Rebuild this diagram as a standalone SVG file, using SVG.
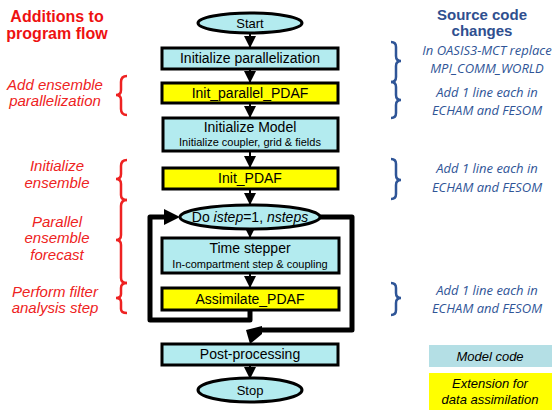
<svg xmlns="http://www.w3.org/2000/svg" width="555" height="410" viewBox="0 0 555 410">
<defs>
<style>
.cyan{fill:#b3ebef;stroke:#000;stroke-width:3}
.yel{fill:#ffff00;stroke:#000;stroke-width:3}
.t{font-family:"Liberation Sans",Arial,sans-serif;font-size:14px;fill:#000;text-anchor:middle}
.s{font-family:"Liberation Sans",Arial,sans-serif;font-size:11px;fill:#000;text-anchor:middle}
.red{font-family:"Liberation Sans",Arial,sans-serif;font-size:15px;font-style:italic;fill:#ee2222;text-anchor:middle}
.redb{font-family:"Liberation Sans",Arial,sans-serif;font-size:16px;font-weight:bold;fill:#ee1111;text-anchor:middle}
.blue{font-family:"Open Sans","Liberation Sans",sans-serif;font-size:13px;font-style:italic;fill:#2f5597;text-anchor:middle}
.blueb{font-family:"Liberation Sans",Arial,sans-serif;font-size:15px;font-weight:bold;fill:#2f4f8f;text-anchor:middle}
.leg{font-family:"Liberation Sans",Arial,sans-serif;font-size:13px;font-style:italic;fill:#000;text-anchor:middle}
.rb{fill:none;stroke:#ee2222;stroke-width:2.5}
.bb{fill:none;stroke:#2f5597;stroke-width:2.5}
.ln{fill:none;stroke:#000;stroke-width:2}
.thick{fill:none;stroke:#000;stroke-width:5;stroke-linejoin:round}
</style>
<marker id="ah" viewBox="0 0 12 12" refX="12" refY="6" markerWidth="12" markerHeight="12" markerUnits="userSpaceOnUse" orient="auto">
<path d="M0,0 L12,6 L0,12 z" fill="#000"/>
</marker>
</defs>

<!-- left annotations -->
<text class="redb" x="57" y="22">Additions to</text>
<text class="redb" x="57" y="39">program flow</text>
<text class="red" x="55" y="90">Add ensemble</text>
<text class="red" x="55" y="106">parallelization</text>
<text class="red" x="57" y="171">Initialize</text>
<text class="red" x="57" y="188">ensemble</text>
<text class="red" x="57" y="227">Parallel</text>
<text class="red" x="57" y="243">ensemble</text>
<text class="red" x="57" y="260">forecast</text>
<text class="red" x="55" y="297">Perform filter</text>
<text class="red" x="55" y="313">analysis step</text>

<path class="rb" d="M127,76 Q121,76 121,82 L121,90 Q121,95 116,95 Q121,95 121,100 L121,109 Q121,115 127,115"/>
<path class="rb" d="M127,160 Q121,160 121,166 L121,174 Q121,179 116,179 Q121,179 121,184 L121,195 Q121,200 127,200"/>
<path class="rb" d="M127,200 Q121,200 121,206 L121,235 Q121,240 116,240 Q121,240 121,245 L121,278 Q121,283 127,283"/>
<path class="rb" d="M127,283 Q121,283 121,288 L121,294 Q121,298 116,298 Q121,298 121,302 L121,309 Q121,313 127,313"/>

<!-- right annotations -->
<text class="blueb" x="482" y="20">Source code</text>
<text class="blueb" x="482" y="36">changes</text>
<text class="blue" x="487" y="55">In OASIS3-MCT replace</text>
<text class="blue" x="487" y="73">MPI_COMM_WORLD</text>
<text class="blue" x="487" y="97">Add 1 line each in</text>
<text class="blue" x="487" y="115">ECHAM and FESOM</text>
<text class="blue" x="487" y="173">Add 1 line each in</text>
<text class="blue" x="487" y="192">ECHAM and FESOM</text>
<text class="blue" x="487" y="295">Add 1 line each in</text>
<text class="blue" x="487" y="313">ECHAM and FESOM</text>

<path class="bb" d="M391,42 Q396,42 396,47 L396,56 Q396,61 401,61 Q396,61 396,66 L396,77 Q396,82 391,82"/>
<path class="bb" d="M391,82 Q396,82 396,87 L396,95 Q396,100 401,100 Q396,100 396,105 L396,113 Q396,118 391,118"/>
<path class="bb" d="M391,159 Q396,159 396,164 L396,175 Q396,180 401,180 Q396,180 396,185 L396,194 Q396,199 391,199"/>
<path class="bb" d="M391,283 Q396,283 396,288 L396,293 Q396,298 401,298 Q396,298 396,303 L396,310 Q396,315 391,315"/>

<!-- legend -->
<g id="legend-model">
<rect x="429" y="345" width="123" height="22" fill="#b4dfe5"/>
<text class="leg" x="490" y="361">Model code</text>
</g>
<g id="legend-ext">
<rect x="429" y="373" width="123" height="37" fill="#ffff00"/>
<text class="leg" x="490" y="388">Extension for</text>
<text class="leg" x="490" y="404">data assimilation</text>
</g>

<!-- connectors -->
<g id="connectors">
<line class="ln" x1="250" y1="32" x2="250" y2="48" marker-end="url(#ah)"/>
<line class="ln" x1="250" y1="69" x2="250" y2="83" marker-end="url(#ah)"/>
<line class="ln" x1="250" y1="103" x2="250" y2="118" marker-end="url(#ah)"/>
<line class="ln" x1="250" y1="151" x2="250" y2="168" marker-end="url(#ah)"/>
<line class="ln" x1="250" y1="189" x2="250" y2="205" marker-end="url(#ah)"/>
<line class="ln" x1="250" y1="229" x2="250" y2="238" marker-end="url(#ah)"/>
<line class="ln" x1="250" y1="273" x2="250" y2="288" marker-end="url(#ah)"/>
<line class="ln" x1="250" y1="365" x2="250" y2="379" marker-end="url(#ah)"/>
<path class="thick" d="M250,310 L250,320 L150,320 L150,217 L166,217"/>
<polygon points="164,209 180,217 164,225" fill="#000"/>
<path class="thick" d="M320,217 L352,217 L352,330 L258,330"/>
<polygon points="262,326 262,334 250,344 246,330" fill="#000"/>
</g>

<!-- nodes -->
<g id="start">
<ellipse class="cyan" cx="250" cy="23" rx="52" ry="10"/>
<text class="t" x="250" y="28" style="font-size:13px">Start</text>
</g>
<g id="init-par">
<rect class="cyan" x="162" y="48" width="176" height="21"/>
<text class="t" x="250" y="63">Initialize parallelization</text>
</g>
<g id="init-par-pdaf">
<rect class="yel" x="162" y="83" width="176" height="20"/>
<text class="t" x="250" y="98">Init_parallel_PDAF</text>
</g>
<g id="init-model">
<rect class="cyan" x="163" y="118" width="175" height="33"/>
<text class="t" x="250" y="132">Initialize Model</text>
<text class="s" x="250" y="146">Initialize coupler, grid &amp; fields</text>
</g>
<g id="init-pdaf">
<rect class="yel" x="163" y="168" width="175" height="21"/>
<text class="t" x="250" y="183">Init_PDAF</text>
</g>
<g id="do-loop">
<ellipse class="cyan" cx="250" cy="217" rx="70" ry="12"/>
<text class="t" x="250" y="222">Do <tspan font-style="italic">istep</tspan>=1, <tspan font-style="italic">nsteps</tspan></text>
</g>
<g id="time-stepper">
<rect class="cyan" x="162" y="238" width="177" height="35"/>
<text class="t" x="250" y="253">Time stepper</text>
<text class="s" x="250" y="268">In-compartment step &amp; coupling</text>
</g>
<g id="assimilate">
<rect class="yel" x="162" y="288" width="177" height="22"/>
<text class="t" x="250" y="304">Assimilate_PDAF</text>
</g>
<g id="post">
<rect class="cyan" x="162" y="344" width="176" height="21"/>
<text class="t" x="250" y="359">Post-processing</text>
</g>
<g id="stop">
<ellipse class="cyan" cx="250" cy="390" rx="52" ry="12"/>
<text class="t" x="250" y="395" style="font-size:13px">Stop</text>
</g>
</svg>
